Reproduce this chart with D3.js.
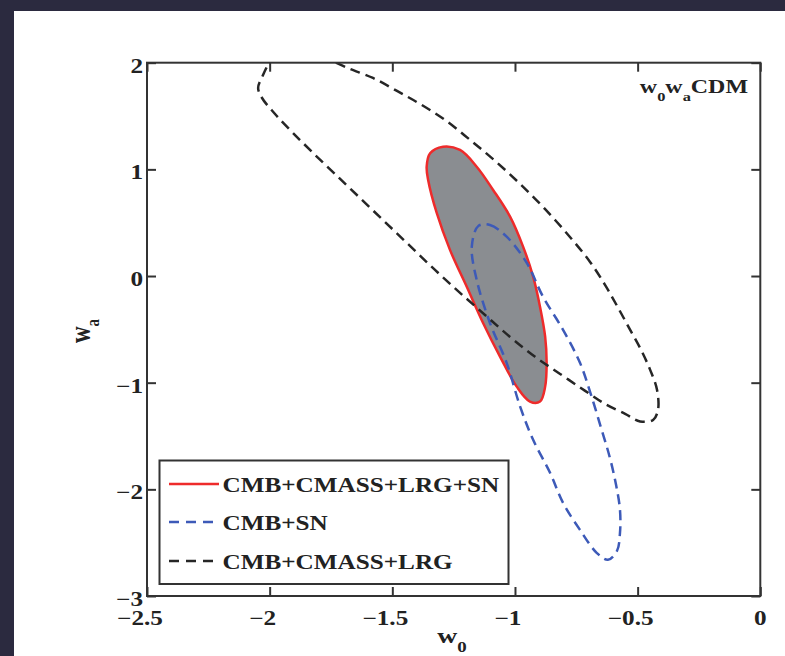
<!DOCTYPE html>
<html>
<head>
<meta charset="utf-8">
<script src="https://cdn.jsdelivr.net/npm/d3@7"></script>
<style>
  html, body { margin: 0; padding: 0; background: #2b2a3f; }
  svg { display: block; }
  text { font-family: "Liberation Serif", "Times New Roman", serif; font-weight: bold; fill: #222; }
</style>
</head>
<body>
<div id="chart"></div>
<script>
// ---- data (w0, wa) ----
var xTicks = [-2.5, -2, -1.5, -1, -0.5, 0];
var yTicks = [-3, -2, -1, 0, 1, 2];

// CMB+CMASS+LRG+SN (filled, red outline)
var contourAll = [
  [-1.360, 1.025], [-1.346, 1.151], [-1.293, 1.213], [-1.224, 1.182], [-1.156, 1.025],
  [-1.089, 0.807], [-1.020, 0.557], [-0.967, 0.276], [-0.926, -0.006], [-0.898, -0.287],
  [-0.877, -0.568], [-0.871, -0.814], [-0.877, -1.037], [-0.898, -1.177], [-0.939, -1.177],
  [-0.993, -1.037], [-1.061, -0.755], [-1.130, -0.440], [-1.197, -0.099], [-1.265, 0.245],
  [-1.319, 0.591], [-1.354, 0.901]
];

// CMB+SN (blue dashed)
var contourSN = [
  [-1.149, 0.470], [-1.102, 0.479], [-1.034, 0.369], [-0.952, 0.123], [-0.886, -0.193],
  [-0.804, -0.505], [-0.735, -0.814], [-0.690, -1.114], [-0.649, -1.424], [-0.613, -1.705],
  [-0.588, -1.958], [-0.572, -2.192], [-0.572, -2.408], [-0.584, -2.576], [-0.621, -2.661],
  [-0.667, -2.595], [-0.735, -2.380], [-0.804, -2.127], [-0.857, -1.845], [-0.926, -1.536],
  [-0.979, -1.224], [-1.034, -0.814], [-1.102, -0.440], [-1.156, -0.037], [-1.176, 0.276]
];

// CMB+CMASS+LRG (black dashed, cut by the wa = 2 edge)
var contourBAO = [
  [-1.730, 2.000], [-1.672, 1.941], [-1.579, 1.857], [-1.481, 1.735], [-1.387, 1.613],
  [-1.285, 1.463], [-1.183, 1.276], [-1.081, 1.079], [-0.979, 0.863], [-0.878, 0.629],
  [-0.776, 0.366], [-0.694, 0.132], [-0.633, -0.083], [-0.584, -0.280], [-0.535, -0.486],
  [-0.486, -0.693], [-0.449, -0.880], [-0.421, -1.067], [-0.417, -1.255], [-0.437, -1.349],
  [-0.490, -1.363], [-0.551, -1.292], [-0.633, -1.199], [-0.714, -1.077], [-0.816, -0.918],
  [-0.918, -0.758], [-1.020, -0.571], [-1.122, -0.365], [-1.224, -0.158], [-1.326, 0.057],
  [-1.428, 0.282], [-1.530, 0.507], [-1.632, 0.732], [-1.734, 0.957], [-1.827, 1.163],
  [-1.909, 1.351], [-1.978, 1.519], [-2.031, 1.669], [-2.047, 1.763], [-2.027, 1.885],
  [-2.003, 2.000]
];

var legendLabels = ["CMB+CMASS+LRG+SN", "CMB+SN", "CMB+CMASS+LRG"];

// ---- layout ----
var W = 785, H = 656;
var SX = 1.26;   // the figure is stretched sideways in the slide
var plotL = 147, plotR = 760.3, plotT = 62.7, plotB = 596;

var svg = d3.select("#chart").append("svg")
    .attr("width", W)
    .attr("height", H);

// white slide panel
svg.append("rect")
    .attr("x", 14).attr("y", 11)
    .attr("width", W - 14).attr("height", H - 11)
    .attr("fill", "#ffffff");

var x = d3.scaleLinear().domain([-2.5, 0]).range([plotL, plotR]);
var y = d3.scaleLinear().domain([-3, 2]).range([plotB, plotT]);

svg.append("clipPath").attr("id", "plotclip")
  .append("rect")
    .attr("x", plotL).attr("y", plotT)
    .attr("width", plotR - plotL).attr("height", plotB - plotT);

var plot = svg.append("g").attr("clip-path", "url(#plotclip)");

var closedLine = d3.line()
    .x(function(d) { return x(d[0]); })
    .y(function(d) { return y(d[1]); })
    .curve(d3.curveCatmullRomClosed.alpha(0.5));

var openLine = d3.line()
    .x(function(d) { return x(d[0]); })
    .y(function(d) { return y(d[1]); })
    .curve(d3.curveCatmullRom.alpha(0.5));

plot.append("path")
    .attr("d", closedLine(contourAll))
    .attr("fill", "#8a8d91")
    .attr("stroke", "#ee2b2b")
    .attr("stroke-width", 2.5)
    .attr("stroke-linejoin", "round");

plot.append("path")
    .attr("d", closedLine(contourSN))
    .attr("fill", "none")
    .attr("stroke", "#3d5ab8")
    .attr("stroke-width", 2.5)
    .attr("stroke-dasharray", "10,6");

plot.append("path")
    .attr("d", openLine(contourBAO))
    .attr("fill", "none")
    .attr("stroke", "#262626")
    .attr("stroke-width", 2.5)
    .attr("stroke-dasharray", "10,6");

// ---- axes box with inward ticks on all sides ----
var tickLen = 9;
var axisColor = "#333";

function styleTicks(g) {
    g.select(".domain").remove();
    g.selectAll("line").attr("stroke", axisColor).attr("stroke-width", 2);
}

svg.append("g")
    .attr("transform", "translate(0," + plotB + ")")
    .call(d3.axisBottom(x).tickValues(xTicks).tickSizeInner(-tickLen).tickSizeOuter(0).tickFormat(""))
    .call(styleTicks);
svg.append("g")
    .attr("transform", "translate(0," + plotT + ")")
    .call(d3.axisTop(x).tickValues(xTicks).tickSizeInner(-tickLen).tickSizeOuter(0).tickFormat(""))
    .call(styleTicks);
svg.append("g")
    .attr("transform", "translate(" + plotL + ",0)")
    .call(d3.axisLeft(y).tickValues(yTicks).tickSizeInner(-tickLen).tickSizeOuter(0).tickFormat(""))
    .call(styleTicks);
svg.append("g")
    .attr("transform", "translate(" + plotR + ",0)")
    .call(d3.axisRight(y).tickValues(yTicks).tickSizeInner(-tickLen).tickSizeOuter(0).tickFormat(""))
    .call(styleTicks);

svg.append("rect")
    .attr("x", plotL).attr("y", plotT)
    .attr("width", plotR - plotL).attr("height", plotB - plotT)
    .attr("fill", "none")
    .attr("stroke", axisColor)
    .attr("stroke-width", 2);

// stretched text helper
function stext(g, px, py, str, size, anchor) {
    return g.append("text")
        .attr("transform", "translate(" + px + "," + py + ") scale(" + SX + ",1)")
        .attr("text-anchor", anchor || "start")
        .attr("font-size", size)
        .text(str);
}

var fmt = d3.format("~g");

// tick labels
xTicks.forEach(function(v) {
    var shift = v < 0 ? -7 : 0;   // number is centred, the minus hangs to the left
    stext(svg, x(v) + shift, 625, fmt(v), 20, "middle");
});
yTicks.forEach(function(v) {
    stext(svg, 143, y(v) + 10, fmt(v), 20, "end");
});

// axis labels
var xl = stext(svg, 452, 643, "w", 22, "middle");
xl.append("tspan").attr("font-size", 15).attr("dy", 9).text("0");

var yl = svg.append("text")
    .attr("transform", "translate(90,331) scale(" + SX + ",1) rotate(-90)")
    .attr("text-anchor", "middle")
    .attr("font-size", 23)
    .text("w");
yl.append("tspan").attr("font-size", 15).attr("dy", 7).text("a");

// model label, top right
var tl = stext(svg, 748, 93, "w", 19, "end");
tl.append("tspan").attr("font-size", 13).attr("dy", 8).text("0");
tl.append("tspan").attr("dy", -8).text("w");
tl.append("tspan").attr("font-size", 13).attr("dy", 8).text("a");
tl.append("tspan").attr("dy", -8).text("CDM");

// ---- legend ----
var legend = svg.append("g");
legend.append("rect")
    .attr("x", 159.5).attr("y", 460.5)
    .attr("width", 349).attr("height", 123.5)
    .attr("fill", "#ffffff")
    .attr("stroke", axisColor)
    .attr("stroke-width", 2);

var legendStyles = [
    { color: "#ee2b2b", dash: null },
    { color: "#3d5ab8", dash: "10,7" },
    { color: "#262626", dash: "10,7" }
];
var legendY = [484, 522, 561];

legendLabels.forEach(function(lbl, i) {
    legend.append("line")
        .attr("x1", 169).attr("x2", 219)
        .attr("y1", legendY[i]).attr("y2", legendY[i])
        .attr("stroke", legendStyles[i].color)
        .attr("stroke-width", 2.5)
        .attr("stroke-dasharray", legendStyles[i].dash);
    stext(legend, 222.5, legendY[i] + 8, lbl, 20, "start");
});
</script>
</body>
</html>
